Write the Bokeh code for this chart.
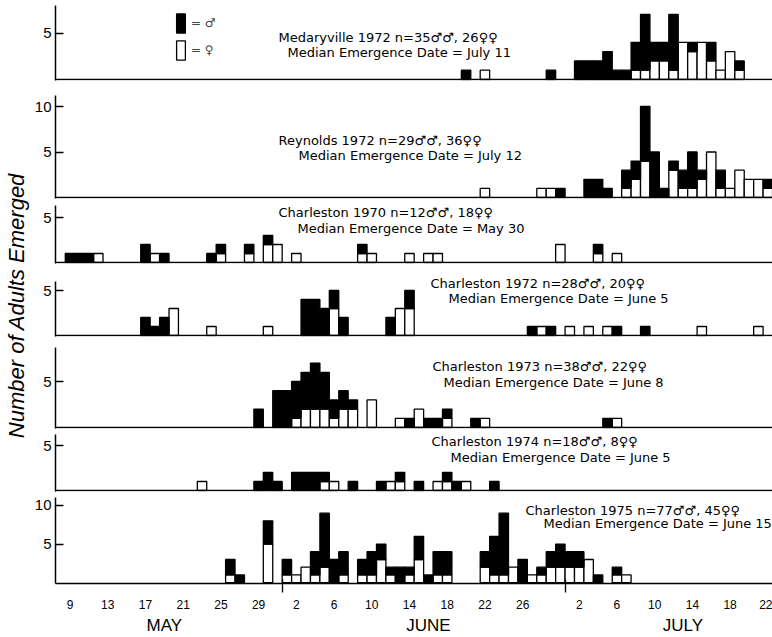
import math
import datetime as dt
from bokeh.plotting import figure
from bokeh.layouts import column, row
from bokeh.models import (Range1d, FixedTicker, Label, Legend, LegendItem,
                          ColumnDataSource, Span, LinearAxis)
from bokeh.embed import file_html
from bokeh.resources import INLINE

# ---------------- data (date "month/day", males, females per day) ----------------
medaryville_dates = ["6/20", "6/22", "6/29", "7/2", "7/3", "7/4", "7/5", "7/6", "7/7", "7/8", "7/9",
                     "7/10", "7/11", "7/12", "7/13", "7/14", "7/15", "7/16", "7/17", "7/18", "7/19"]
medaryville_males = [1, 0, 1, 2, 2, 2, 3, 1, 1, 3, 6, 2, 2, 6, 0, 1, 0, 2, 0, 0, 1]
medaryville_females = [0, 1, 0, 0, 0, 0, 0, 0, 0, 1, 1, 2, 2, 1, 4, 3, 4, 2, 1, 3, 1]

reynolds_dates = ["6/22", "6/28", "6/29", "6/30", "7/3", "7/4", "7/5", "7/7", "7/8", "7/9", "7/10",
                  "7/11", "7/12", "7/13", "7/14", "7/15", "7/16", "7/17", "7/18", "7/19", "7/20",
                  "7/21", "7/22"]
reynolds_males = [0, 0, 0, 1, 2, 2, 1, 2, 2, 6, 5, 1, 1, 2, 4, 1, 0, 2, 0, 0, 0, 0, 1]
reynolds_females = [1, 1, 1, 0, 0, 0, 0, 1, 2, 4, 0, 0, 3, 1, 1, 2, 5, 1, 1, 3, 2, 2, 1]

ch1970_dates = ["5/9", "5/10", "5/11", "5/12", "5/17", "5/18", "5/19", "5/24", "5/25", "5/28",
                "5/30", "5/31", "6/2", "6/9", "6/10", "6/14", "6/16", "6/17", "6/30", "7/4", "7/6"]
ch1970_males = [1, 1, 1, 0, 2, 0, 1, 1, 1, 1, 1, 0, 0, 1, 0, 0, 0, 0, 0, 1, 0]
ch1970_females = [0, 0, 0, 1, 0, 1, 0, 0, 1, 1, 2, 2, 1, 1, 1, 1, 1, 1, 2, 1, 1]

ch1972_dates = ["5/17", "5/18", "5/19", "5/20", "5/24", "5/30", "6/3", "6/4", "6/5", "6/6", "6/7",
                "6/12", "6/13", "6/14", "6/27", "6/28", "6/29", "7/1", "7/3", "7/5", "7/6", "7/9",
                "7/15", "7/21"]
ch1972_males = [2, 1, 2, 0, 0, 0, 4, 4, 3, 2, 2, 2, 0, 2, 1, 0, 1, 0, 0, 0, 1, 1, 0, 0]
ch1972_females = [0, 0, 0, 3, 1, 1, 0, 0, 0, 3, 0, 0, 3, 3, 0, 1, 0, 1, 1, 1, 0, 0, 1, 1]

ch1973_dates = ["5/29", "5/31", "6/1", "6/2", "6/3", "6/4", "6/5", "6/6", "6/7", "6/8", "6/10",
                "6/13", "6/14", "6/15", "6/16", "6/17", "6/18", "6/21", "6/22", "7/5", "7/6"]
ch1973_males = [2, 4, 4, 4, 4, 5, 4, 2, 2, 1, 0, 0, 1, 0, 1, 1, 1, 1, 0, 1, 0]
ch1973_females = [0, 0, 0, 1, 2, 2, 2, 1, 2, 2, 3, 1, 0, 2, 0, 0, 1, 0, 1, 0, 1]

ch1974_dates = ["5/23", "5/29", "5/30", "5/31", "6/2", "6/3", "6/4", "6/5", "6/6", "6/8", "6/11",
                "6/12", "6/13", "6/15", "6/17", "6/18", "6/19", "6/20", "6/23"]
ch1974_males = [0, 1, 2, 1, 2, 2, 2, 1, 0, 1, 1, 0, 1, 1, 0, 1, 1, 0, 1]
ch1974_females = [1, 0, 0, 0, 0, 0, 0, 1, 1, 0, 0, 1, 1, 0, 1, 1, 0, 1, 0]

ch1975_dates = ["5/26", "5/27", "5/30", "6/1", "6/2", "6/3", "6/4", "6/5", "6/6", "6/7", "6/9",
                "6/10", "6/11", "6/12", "6/13", "6/14", "6/15", "6/16", "6/17", "6/18", "6/22",
                "6/23", "6/24", "6/25", "6/26", "6/27", "6/28", "6/29", "6/30", "7/1", "7/2",
                "7/3", "7/4", "7/6", "7/7"]
ch1975_males = [2, 1, 3, 2, 0, 0, 3, 7, 3, 3, 2, 3, 2, 1, 2, 1, 3, 1, 3, 3, 2, 5, 8, 0, 3, 0, 1,
                2, 3, 2, 2, 0, 1, 1, 0]
ch1975_females = [1, 0, 5, 1, 1, 2, 1, 2, 0, 1, 1, 1, 3, 1, 0, 1, 3, 0, 1, 1, 2, 1, 1, 2, 0, 1,
                  1, 2, 2, 2, 2, 3, 0, 1, 1]

panel_titles = [
    ("Medaryville 1972   n=35\u2642\u2642, 26\u2640\u2640", "Median Emergence Date = July 11"),
    ("Reynolds 1972  n=29\u2642\u2642, 36\u2640\u2640", "Median Emergence Date = July 12"),
    ("Charleston 1970  n=12\u2642\u2642, 18\u2640\u2640", "Median Emergence Date = May 30"),
    ("Charleston 1972  n=28\u2642\u2642, 20\u2640\u2640", "Median Emergence Date = June 5"),
    ("Charleston 1973  n=38\u2642\u2642, 22\u2640\u2640", "Median Emergence Date = June 8"),
    ("Charleston 1974  n=18\u2642\u2642, 8\u2640\u2640", "Median Emergence Date = June 5"),
    ("Charleston 1975  n=77\u2642\u2642, 45\u2640\u2640", "Median Emergence Date = June 15"),
]

x_tick_days = [0, 4, 8, 12, 16, 20, 24, 28, 32, 36, 40, 44, 48, 54, 58, 62, 66, 70, 74]
x_tick_labels = ["9", "13", "17", "21", "25", "29", "2", "6", "10", "14", "18", "22", "26",
                 "2", "6", "10", "14", "18", "22"]
month_boundaries = [22.5, 52.5]
month_days = [10, 38, 65]
month_names = ["MAY", "JUNE", "JULY"]

SEASON_START = dt.date(2000, 5, 9)


def to_day(s):
    m, d = s.split("/")
    return (dt.date(2000, int(m), int(d)) - SEASON_START).days


# ---------------- geometry (pixels) ----------------
W, H = 772, 637
LABEL_W = 30
X0_PX, PX_PER_DAY = 69.5, 9.43
FRAME_L, FRAME_R = 55, 772
x_lo = (FRAME_L - X0_PX) / PX_PER_DAY
x_hi = (FRAME_R - X0_PX) / PX_PER_DAY

# slice_top, slice_bottom, axis_top, baseline, px per unit, y ticks, text positions
geoms = [
    (0, 86, 5, 79, 9.3, [5], (278, 37), (287, 52)),
    (86, 200, 95, 197, 9.1, [5, 10], (278, 140), (298, 155)),
    (200, 270, 205, 262, 9.0, [5], (278, 212), (297, 228)),
    (270, 340, 281, 335, 9.0, [5], (430, 283), (448, 298)),
    (340, 431, 347, 427, 9.2, [5], (432, 366), (443, 382)),
    (431, 494, 434, 490, 9.0, [5], (431, 441), (450, 457)),
    (494, 637, 497, 599, 9.2, [5, 10], (525, 513), (543, 529)),
]

datasets = [
    (medaryville_dates, medaryville_males, medaryville_females),
    (reynolds_dates, reynolds_males, reynolds_females),
    (ch1970_dates, ch1970_males, ch1970_females),
    (ch1972_dates, ch1972_males, ch1972_females),
    (ch1973_dates, ch1973_males, ch1973_females),
    (ch1974_dates, ch1974_males, ch1974_females),
    (ch1975_dates, ch1975_males, ch1975_females),
]

TEXT_FONT = "DejaVu Sans"
panels = []
for i, (geom, data, titles) in enumerate(zip(geoms, datasets, panel_titles)):
    st, sb, at, bl, unit, yt, t1, t2 = geom
    dates, males, females = data
    last = i == len(geoms) - 1
    pad = 1
    fb = bl + pad
    y0 = -pad / unit
    p = figure(width=W - LABEL_W, height=sb - st,
               x_range=Range1d(x_lo, x_hi),
               y_range=Range1d(y0, (bl - st) / unit),
               output_backend="svg", toolbar_location=None,
               min_border_left=FRAME_L - LABEL_W, min_border_right=0,
               min_border_top=0, min_border_bottom=sb - fb)
    p.outline_line_color = None
    p.xgrid.visible = False
    p.ygrid.visible = False
    p.background_fill_color = "white"

    days = [to_day(s) for s in dates]
    fsrc = ColumnDataSource(dict(
        x=[d for d, f in zip(days, females) if f > 0],
        top=[f for f in females if f > 0]))
    msrc = ColumnDataSource(dict(
        x=[d for d, m in zip(days, males) if m > 0],
        bottom=[f for f, m in zip(females, males) if m > 0],
        top=[f + m for f, m in zip(females, males) if m > 0]))
    rf = p.vbar(x="x", top="top", bottom=0, width=1, source=fsrc,
                fill_color="white", line_color="black", line_width=1.3)
    rm = p.vbar(x="x", top="top", bottom="bottom", width=1, source=msrc,
                fill_color="black", line_color="black", line_width=1.3)

    ya = p.yaxis[0]
    ya.ticker = FixedTicker(ticks=yt)
    ya.bounds = (y0, (bl - at) / unit)
    ya.major_tick_in = 8
    ya.major_tick_out = 0
    ya.minor_tick_line_color = None
    ya.axis_line_width = 1.5
    ya.major_tick_line_width = 1.5
    ya.major_label_text_font = "Liberation Sans"
    ya.major_label_text_font_size = "15px"
    ya.major_label_text_color = "black"
    ya.major_label_standoff = 4

    if not last:
        p.xaxis.visible = False
        p.add_layout(Span(location=0, dimension="width", line_color="black", line_width=1.5))
    else:
        xa = p.xaxis[0]
        xa.ticker = FixedTicker(ticks=x_tick_days, minor_ticks=month_boundaries)
        xa.major_label_overrides = {d: s for d, s in zip(x_tick_days, x_tick_labels)}
        xa.major_tick_in = 0
        xa.major_tick_out = 0
        xa.minor_tick_in = 4
        xa.minor_tick_out = 9
        xa.minor_tick_line_width = 1.3
        xa.axis_line_width = 1.5
        xa.major_label_text_font = "Liberation Sans"
        xa.major_label_text_font_size = "12px"
        xa.major_label_text_color = "black"
        xa.major_label_standoff = 7
        ma = LinearAxis(ticker=FixedTicker(ticks=month_days),
                        major_label_overrides={d: s for d, s in zip(month_days, month_names)})
        ma.axis_line_color = None
        ma.major_tick_line_color = None
        ma.minor_tick_line_color = None
        ma.major_label_text_font = "Liberation Sans"
        ma.major_label_text_font_size = "17px"
        ma.major_label_text_color = "black"
        ma.major_label_standoff = -2
        p.add_layout(ma, "below")

    for (tx, ty), txt in zip((t1, t2), titles):
        p.add_layout(Label(x=(tx - X0_PX) / PX_PER_DAY, y=(bl - ty) / unit, text=txt,
                           text_font=TEXT_FONT, text_font_size="13px",
                           text_align="left", text_baseline="middle", text_color="black"))

    if i == 0:
        leg = Legend(items=[LegendItem(label="= \u2642", renderers=[rm]),
                            LegendItem(label="= \u2640", renderers=[rf])],
                     location=(120, 18), orientation="vertical",
                     glyph_width=11, glyph_height=24, spacing=3, padding=0, margin=0,
                     label_standoff=5, label_text_font=TEXT_FONT, label_text_font_size="12px",
                     border_line_color=None, background_fill_alpha=0)
        p.add_layout(leg, "center")
    panels.append(p)

lab = figure(width=LABEL_W, height=H, x_range=Range1d(0, LABEL_W), y_range=Range1d(0, H),
             min_border=0, toolbar_location=None, output_backend="svg")
lab.axis.visible = False
lab.grid.visible = False
lab.outline_line_color = None
lab.add_layout(Label(x=16, y=H - 305, text="Number of Adults Emerged", angle=math.pi / 2,
                     text_align="center", text_baseline="middle", text_font="Liberation Sans",
                     text_font_style="italic", text_font_size="22px", text_color="black"))

layout = row(lab, column(*panels))
open("out.html", "w").write(file_html(layout, INLINE))
